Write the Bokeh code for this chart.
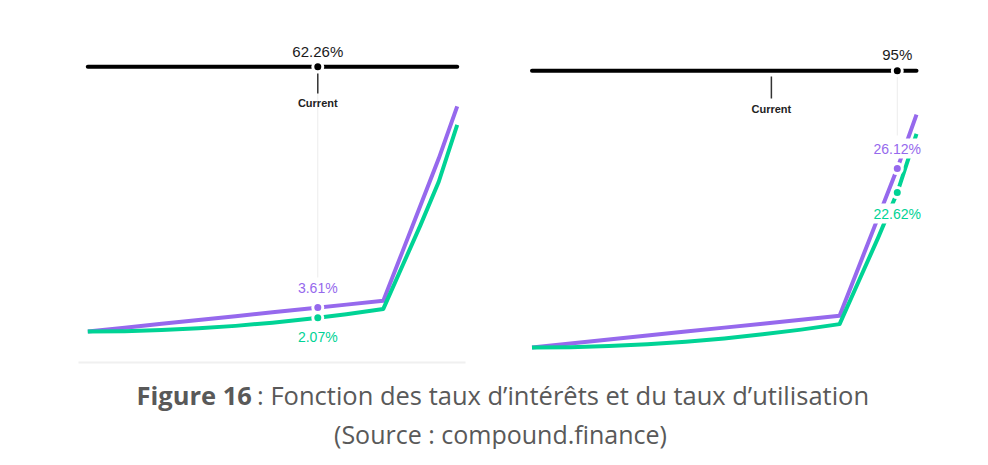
from bokeh.plotting import figure
from bokeh.models import Range1d
from bokeh.embed import file_html
from bokeh.resources import INLINE
from bokeh.core.properties import value

# ---------------- data ----------------
utilization = [0, 10, 20, 30, 40, 50, 60, 70, 80, 85, 90, 95, 100]
borrow_rate = [0.0, 0.58, 1.16, 1.74, 2.32, 2.90, 3.48, 4.06, 4.64, 11.8, 18.96, 26.12, 34.0]
supply_rate = [0.0, 0.05, 0.21, 0.48, 0.85, 1.33, 1.92, 2.61, 3.41, 9.7, 16.0, 22.62, 31.2]

current_util = 62.26
current_borrow = 3.61
current_supply = 2.07

selected_util = 95
selected_borrow = 26.12
selected_supply = 22.62

current_label = "Current"
caption_bold = "Figure 16"
caption_rest = "\u00a0: Fonction des taux d\u2019int\u00e9r\u00eats et du taux d\u2019utilisation"
caption_source = "(Source : compound.finance)"

# ---------------- style ----------------
PURPLE = "#9669ED"
GREEN = "#00D395"
BLACK = "#000000"
GUIDE = "#ececec"
CAPTION = "#595959"
FONT = value("Liberation Sans")
CFONT = value("Open Sans")

W, H = 972, 449

p = figure(width=W, height=H, x_range=Range1d(0, W), y_range=Range1d(H, 0),
           output_backend="svg", toolbar_location=None,
           x_axis_location=None, y_axis_location=None, min_border=0,
           outline_line_color=None, background_fill_color="white",
           border_fill_color="white")
p.grid.visible = False

# panel scales (util -> px, rate -> px)
def rng(origin_px, scale, total):
    s = -origin_px / scale
    return Range1d(s, s + total / scale)

p.extra_x_ranges = {
    "lx": rng(87.3, 3.694, W),
    "rx": rng(531.5, 3.845, W),
}
p.extra_y_ranges = {
    "ly": rng(H - 331.0, 6.62, H),
    "ry": rng(H - 347.0, 6.85, H),
}

def panel(xr, yr, slider_y, tick_top, tick_bot, cur_label_y, guide_top, guide_bot,
          sel_util, sel_borrow, sel_supply, top_label_y, b_label_y, s_label_y):
    # guide line
    p.segment(x0=[sel_util], y0=[guide_top], x1=[sel_util], y1=[guide_bot],
              x_range_name=xr, line_color=GUIDE, line_width=1)
    # curves
    p.line(utilization, borrow_rate, x_range_name=xr, y_range_name=yr,
           line_color=PURPLE, line_width=4, line_join="round")
    p.line(utilization, supply_rate, x_range_name=xr, y_range_name=yr,
           line_color=GREEN, line_width=4, line_join="round")
    # dots on curves
    p.scatter([sel_util], [sel_borrow], x_range_name=xr, y_range_name=yr, size=10,
              fill_color=PURPLE, line_color="white", line_width=3)
    p.scatter([sel_util], [sel_supply], x_range_name=xr, y_range_name=yr, size=10,
              fill_color=GREEN, line_color="white", line_width=3)
    # slider
    p.line([utilization[0], utilization[-1]], [slider_y, slider_y], x_range_name=xr,
           line_color=BLACK, line_width=4, line_cap="round")
    p.scatter([sel_util], [slider_y], x_range_name=xr, size=10, fill_color=BLACK,
              line_color="white", line_width=3)
    # current tick
    p.segment(x0=[current_util], y0=[tick_top], x1=[current_util], y1=[tick_bot],
              x_range_name=xr, line_color="#333333", line_width=1.5)
    p.text(x=[current_util], y=[cur_label_y], text=[current_label], x_range_name=xr,
           text_font=FONT, text_font_size="11px", text_font_style="bold",
           text_color="#222222", text_align="center", text_baseline="middle")
    # labels
    fmt = lambda v: f"{v:g}%"
    p.text(x=[sel_util], y=[top_label_y], text=[fmt(sel_util)], x_range_name=xr,
           text_font=FONT, text_font_size="15px", text_color="#1a1a1a",
           text_align="center", text_baseline="middle")
    p.text(x=[sel_util], y=[b_label_y], text=[fmt(sel_borrow)], x_range_name=xr,
           text_font=FONT, text_font_size="14px", text_color=PURPLE,
           text_align="center", text_baseline="middle",
           background_fill_color="white", padding=2)
    p.text(x=[sel_util], y=[s_label_y], text=[fmt(sel_supply)], x_range_name=xr,
           text_font=FONT, text_font_size="14px", text_color=GREEN,
           text_align="center", text_baseline="middle",
           background_fill_color="white", padding=2)

# left panel baseline
p.segment(x0=[78], y0=[362], x1=[465], y1=[362], line_color="#f0f0f0", line_width=2)

panel("lx", "ly", 66.3, 73, 93, 102, 73, 277,
      current_util, current_borrow, current_supply, 50.5, 287.5, 336.5)
panel("rx", "ry", 70.3, 76, 98, 108, 76, 135,
      selected_util, selected_borrow, selected_supply, 54, 148, 213)

# caption
p.text(x=[136], y=[394], text=[caption_bold], text_font=CFONT, text_font_size="25.5px",
       text_font_style="bold", text_color=CAPTION, text_align="left", text_baseline="middle")
p.text(x=[250], y=[394], text=[caption_rest], text_font=CFONT, text_font_size="25.5px",
       text_color=CAPTION, text_align="left", text_baseline="middle")
p.text(x=[500], y=[433], text=[caption_source], text_font=CFONT, text_font_size="25px",
       text_color=CAPTION, text_align="center", text_baseline="middle")

open("out.html", "w").write(file_html(p, INLINE))
